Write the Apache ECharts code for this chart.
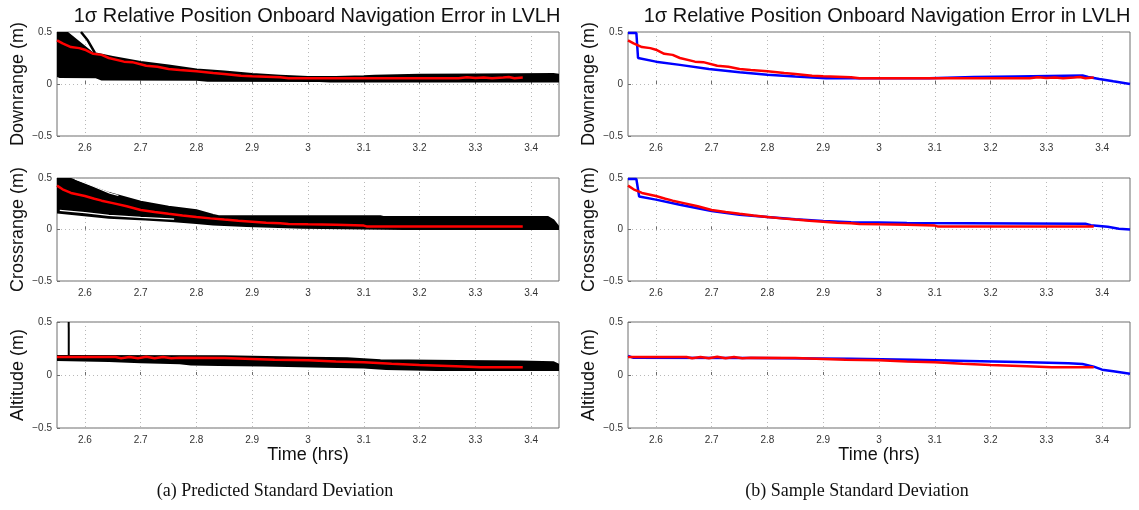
<!DOCTYPE html>
<html><head><meta charset="utf-8">
<script src="https://cdn.jsdelivr.net/npm/echarts@6/dist/echarts.min.js"></script>
<style>html,body{margin:0;padding:0;background:#fff}#c{width:1139px;height:510px}</style>
</head><body><div id="c"></div>
<script>
// ---------- text ----------
const titleText = '1σ Relative Position Onboard Navigation Error in LVLH';
const rowNames = ['Downrange (m)', 'Crossrange (m)', 'Altitude (m)'];
const xName = 'Time (hrs)';
const captions = ['(a) Predicted Standard Deviation', '(b) Sample Standard Deviation'];

// ---------- ticks ----------
const xTicks = [2.6, 2.7, 2.8, 2.9, 3.0, 3.1, 3.2, 3.3, 3.4];
const xMin = 2.55, xMax = 3.45;
const yMin = -0.5, yMax = 0.5, yStep = 0.5;

// ---------- red (mean) curves, [time hrs, metres] ----------
const downRed = [[2.55,0.42],[2.56,0.39],[2.575,0.355],[2.59,0.345],[2.6,0.33],[2.615,0.29],[2.63,0.28],[2.643,0.25],[2.67,0.215],[2.685,0.21],[2.71,0.175],[2.73,0.165],[2.75,0.145],[2.77,0.135],[2.8,0.122],[2.83,0.105],[2.85,0.097],[2.88,0.08],[2.9,0.074],[2.95,0.065],[2.965,0.055],[3.27,0.055],[3.285,0.065],[3.3,0.058],[3.315,0.062],[3.33,0.055],[3.35,0.062],[3.36,0.067],[3.37,0.056],[3.385,0.062]];
const crossRed = [[2.55,0.426],[2.56,0.39],[2.575,0.355],[2.6,0.325],[2.617,0.298],[2.63,0.28],[2.65,0.256],[2.675,0.225],[2.7,0.19],[2.725,0.17],[2.75,0.152],[2.775,0.135],[2.8,0.121],[2.825,0.108],[2.85,0.096],[2.875,0.085],[2.9,0.075],[2.925,0.065],[2.95,0.06],[2.965,0.054],[3.0,0.05],[3.05,0.045],[3.1,0.038],[3.105,0.03],[3.385,0.03]];
const altRed = [[2.55,0.17],[2.655,0.17],[2.665,0.158],[2.68,0.17],[2.695,0.158],[2.71,0.172],[2.725,0.158],[2.74,0.17],[2.755,0.157],[2.77,0.162],[2.85,0.16],[2.9,0.152],[2.94,0.145],[3.0,0.138],[3.05,0.128],[3.1,0.12],[3.15,0.107],[3.2,0.095],[3.265,0.082],[3.31,0.073],[3.385,0.073]];

// ---------- blue (sample) curves ----------
const downBlue = [[2.55,0.49],[2.565,0.49],[2.568,0.25],[2.6,0.215],[2.643,0.184],[2.695,0.145],[2.75,0.113],[2.8,0.09],[2.85,0.071],[2.905,0.055],[3.09,0.055],[3.092,0.065],[3.17,0.068],[3.172,0.073],[3.245,0.073],[3.247,0.082],[3.365,0.082],[3.375,0.068],[3.395,0.048],[3.42,0.026],[3.45,0.0]];
const crossBlue = [[2.55,0.49],[2.565,0.49],[2.57,0.32],[2.6,0.29],[2.643,0.24],[2.7,0.18],[2.75,0.144],[2.8,0.122],[2.85,0.1],[2.9,0.083],[2.95,0.07],[3.0,0.067],[3.05,0.064],[3.052,0.055],[3.37,0.055],[3.38,0.042],[3.41,0.026],[3.43,0.008],[3.45,0.0]];
const altBlue = [[2.55,0.18],[2.56,0.162],[2.77,0.16],[2.772,0.154],[2.95,0.154],[2.952,0.146],[3.06,0.144],[3.062,0.135],[3.16,0.133],[3.162,0.125],[3.25,0.122],[3.252,0.112],[3.34,0.11],[3.365,0.104],[3.385,0.079],[3.4,0.05],[3.42,0.035],[3.45,0.012]];

// ---------- black Monte-Carlo envelope (predicted sigma of all runs) ----------
const downBandUpper = [[2.55,0.5],[2.567,0.5],[2.613,0.30],[2.65,0.26],[2.7,0.212],[2.75,0.177],[2.8,0.139],[2.85,0.12],[2.9,0.097],[2.95,0.08],[3.0,0.068],[3.05,0.068],[3.1,0.074],[3.12,0.08],[3.2,0.088],[3.3,0.092],[3.44,0.097],[3.45,0.09]];
const downBandLower = [[2.55,0.078],[2.555,0.068],[2.62,0.065],[2.63,0.043],[2.8,0.04],[2.82,0.032],[3.02,0.03],[3.04,0.023],[3.45,0.023]];
const downOutlier = [[2.593,0.5],[2.605,0.42],[2.618,0.3]];
const crossBandUpper = [[2.55,0.5],[2.575,0.49],[2.64,0.36],[2.7,0.27],[2.75,0.222],[2.8,0.186],[2.83,0.14],[2.84,0.128],[3.13,0.128],[3.135,0.122],[3.43,0.122],[3.44,0.09],[3.45,0.02]];
const crossBandLower = [[2.55,0.165],[2.643,0.115],[2.708,0.096],[2.76,0.08],[2.8,0.064],[2.83,0.048],[2.89,0.035],[2.99,0.016],[3.17,0.006],[3.45,0.006]];
const crossGapTop = [[2.582,0.49],[2.615,0.42],[2.645,0.352],[2.66,0.33]];
const crossGapBottom = [[2.555,0.185],[2.6,0.163],[2.643,0.138],[2.7,0.118],[2.76,0.1]];
const altBandUpper = [[2.55,0.18],[2.85,0.178],[2.875,0.174],[3.0,0.162],[3.07,0.158],[3.13,0.14],[3.18,0.136],[3.27,0.133],[3.38,0.127],[3.44,0.12],[3.45,0.095]];
const altBandLower = [[2.55,0.142],[2.643,0.133],[2.7,0.12],[2.77,0.11],[2.79,0.1],[2.84,0.095],[2.92,0.09],[3.03,0.079],[3.1,0.07],[3.14,0.057],[3.23,0.047],[3.45,0.047]];
const altSpike = [[2.571,0.5],[2.5711,0.18]];

// ---------- build ----------
const FONT = 'Liberation Sans, Arial, Helvetica, sans-serif';
const gridsPos = [
  {left:57, top:32, width:502, height:104},
  {left:57, top:178, width:502, height:103},
  {left:57, top:322, width:502, height:106},
  {left:628, top:32, width:502, height:104},
  {left:628, top:178, width:502, height:103},
  {left:628, top:322, width:502, height:106}
];
const grid = gridsPos.map(g => Object.assign({show:true, borderColor:'#6e6e6e', borderWidth:1, backgroundColor:'#fff'}, g));
const xAxis = gridsPos.map((g, i) => ({
  gridIndex:i, type:'value', min:xMin, max:xMax,
  name: (i % 3 === 2) ? xName : '', nameLocation:'middle', nameGap:18,
  nameTextStyle:{fontFamily:FONT, fontSize:18, color:'#111'},
  axisLine:{show:false},
  axisTick:{show:true, inside:true, length:3, customValues:xTicks, lineStyle:{color:'#6e6e6e'}},
  axisLabel:{customValues:xTicks, fontFamily:FONT, fontSize:10, color:'#333', margin:7, formatter:v => String(+v.toFixed(1))},
  splitLine:{show:true, lineStyle:{type:[1,3], color:'#b8b8b8', width:1}}
}));
const yAxis = gridsPos.map((g, i) => ({
  gridIndex:i, type:'value', min:yMin, max:yMax, interval:yStep,
  name: rowNames[i % 3], nameLocation:'middle', nameGap:30, nameRotate:90,
  nameTextStyle:{fontFamily:FONT, fontSize:18, color:'#111'},
  axisLine:{show:false},
  axisTick:{show:true, inside:true, length:3, lineStyle:{color:'#6e6e6e'}},
  axisLabel:{fontFamily:FONT, fontSize:10, color:'#333', margin:5, formatter:v => v < 0 ? '\u2212' + Math.abs(v) : String(v)},
  splitLine:{show:true, lineStyle:{type:[1,3], color:'#b8b8b8', width:1}}
}));

function line(idx, data, color, width) {
  return {type:'line', xAxisIndex:idx, yAxisIndex:idx, data:data, showSymbol:false, symbol:'none',
    lineStyle:{color:color, width:width || 2.5}, clip:true, silent:true, animation:false, z:3};
}
function band(idx, upper, lower) {
  return {type:'custom', xAxisIndex:idx, yAxisIndex:idx, data:[[xMin, 0]], clip:true, silent:true, animation:false, z:2,
    renderItem:(params, api) => {
      const pts = upper.map(p => api.coord(p)).concat(lower.slice().reverse().map(p => api.coord(p)));
      return {type:'polygon', shape:{points:pts}, style:{fill:'#000', stroke:'#000', lineWidth:2}};
    }};
}

const series = [
  band(0, downBandUpper, downBandLower), line(0, downOutlier, '#000', 2.5), line(0, downRed, '#ff0000'),
  band(1, crossBandUpper, crossBandLower), line(1, crossGapTop, '#ffffff', 1.2), line(1, crossGapBottom, '#ffffff', 1.2), line(1, crossRed, '#ff0000'),
  band(2, altBandUpper, altBandLower), line(2, altSpike, '#000', 2), line(2, altRed, '#ff0000'),
  line(3, downBlue, '#0000ff'), line(3, downRed, '#ff0000'),
  line(4, crossBlue, '#0000ff'), line(4, crossRed, '#ff0000'),
  line(5, altBlue, '#0000ff'), line(5, altRed, '#ff0000')
];

const graphic = [
  {type:'text', x:317, y:16, style:{text:titleText, font:'20px ' + FONT, fill:'#111', textAlign:'center', textVerticalAlign:'middle'}},
  {type:'text', x:887, y:16, style:{text:titleText, font:'20px ' + FONT, fill:'#111', textAlign:'center', textVerticalAlign:'middle'}},
  {type:'text', x:275, y:491, style:{text:captions[0], font:'18px Liberation Serif, Times New Roman, serif', fill:'#111', textAlign:'center', textVerticalAlign:'middle'}},
  {type:'text', x:857, y:491, style:{text:captions[1], font:'18px Liberation Serif, Times New Roman, serif', fill:'#111', textAlign:'center', textVerticalAlign:'middle'}}
];

const chart = echarts.init(document.getElementById('c'), null, {renderer:'canvas'});
chart.setOption({animation:false, backgroundColor:'#fff', grid, xAxis, yAxis, series, graphic});
</script>
</body></html>
